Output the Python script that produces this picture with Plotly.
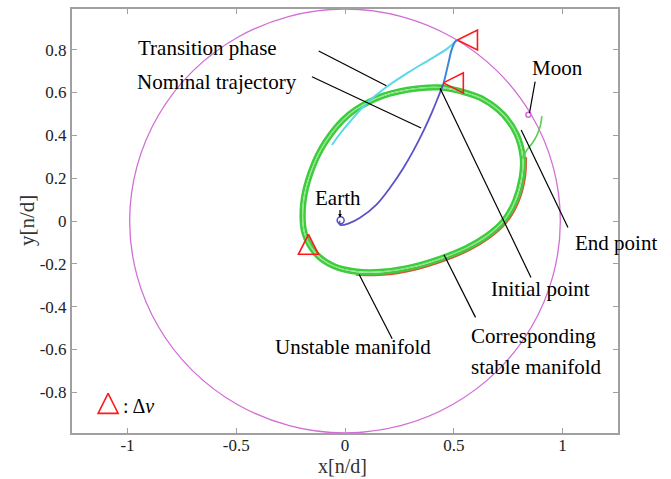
import plotly.graph_objects as go

# ---------------- data ----------------
orbit_x = [0.99, 0.956, 0.857, 0.700, 0.495, 0.256, 0.0, -0.256, -0.495, -0.700, -0.857, -0.956,
           -0.99, -0.956, -0.857, -0.700, -0.495, -0.256, 0.0, 0.256, 0.495, 0.700, 0.857, 0.956, 0.99]
orbit_y = [0.0, 0.256, 0.495, 0.700, 0.857, 0.956, 0.99, 0.956, 0.857, 0.700, 0.495, 0.256,
           0.0, -0.256, -0.495, -0.700, -0.857, -0.956, -0.99, -0.956, -0.857, -0.700, -0.495, -0.256, 0.0]

# stable-manifold loops (centre, outer, inner revolution)
loopA_x = [0.437, 0.55, 0.64, 0.728, 0.789, 0.817, 0.812, 0.782, 0.728, 0.651, 0.56, 0.452, 0.314,
           0.176, 0.054, -0.054, -0.13, -0.184, -0.192, -0.155, -0.088, 0.018, 0.146, 0.284, 0.437]
loopA_y = [0.623, 0.60, 0.565, 0.496, 0.403, 0.295, 0.202, 0.093, 0.0, -0.07, -0.125, -0.17, -0.213,
           -0.236, -0.236, -0.209, -0.155, -0.062, 0.078, 0.233, 0.372, 0.496, 0.573, 0.612, 0.623]
loopB_x = [0.440, 0.555, 0.646, 0.735, 0.797, 0.826, 0.821, 0.791, 0.736, 0.658, 0.565, 0.456, 0.315,
           0.176, 0.051, -0.059, -0.138, -0.193, -0.201, -0.163, -0.094, 0.014, 0.145, 0.285, 0.440]
loopB_y = [0.632, 0.608, 0.572, 0.501, 0.407, 0.297, 0.202, 0.091, -0.004, -0.076, -0.132, -0.178,
           -0.222, -0.245, -0.245, -0.216, -0.160, -0.063, 0.079, 0.237, 0.378, 0.504, 0.582, 0.621, 0.632]
loopC_x = [0.435, 0.546, 0.635, 0.722, 0.782, 0.809, 0.804, 0.774, 0.721, 0.645, 0.555, 0.449, 0.313,
           0.176, 0.056, -0.049, -0.123, -0.176, -0.184, -0.148, -0.082, 0.021, 0.147, 0.283, 0.435]
loopC_y = [0.615, 0.593, 0.559, 0.491, 0.400, 0.293, 0.202, 0.095, 0.003, -0.065, -0.119, -0.163,
           -0.205, -0.228, -0.228, -0.203, -0.151, -0.061, 0.077, 0.230, 0.366, 0.489, 0.565, 0.604, 0.615]

tail_x = [0.815, 0.835, 0.86, 0.882, 0.898, 0.905]
tail_y = [0.29, 0.33, 0.362, 0.40, 0.445, 0.49]

unstable_x = [0.832, 0.827, 0.797, 0.742, 0.663, 0.569, 0.458, 0.316, 0.175, 0.05]
unstable_y = [0.298, 0.202, 0.09, -0.006, -0.079, -0.137, -0.184, -0.228, -0.251, -0.25]

nominal_x = [-0.023, -0.027, -0.02, 0.015, 0.069, 0.146, 0.207, 0.267, 0.317, 0.362, 0.402, 0.432, 0.454]
nominal_y = [0.0, -0.012, -0.019, -0.012, 0.015, 0.078, 0.155, 0.245, 0.333, 0.423, 0.513, 0.588, 0.645]
nominal_top_x = [0.454, 0.475, 0.49, 0.506, 0.515]
nominal_top_y = [0.645, 0.736, 0.799, 0.837, 0.845]

transition_x = [-0.06, -0.025, 0.015, 0.1, 0.192, 0.291, 0.391, 0.47, 0.515]
transition_y = [0.355, 0.405, 0.455, 0.55, 0.627, 0.694, 0.755, 0.805, 0.845]

earth = (-0.02, 0.003)
moon = (0.843, 0.496)

dv_left_x = [0.517, 0.452]
dv_left_y = [0.845, 0.645]
dv_up_x = [-0.168]
dv_up_y = [-0.062]

x_ticks = [-1, -0.5, 0, 0.5, 1]
x_tick_text = ["-1", "-0.5", "0", "0.5", "1"]
y_ticks = [0.8, 0.6, 0.4, 0.2, 0, -0.2, -0.4, -0.6, -0.8]
y_tick_text = ["0.8", "0.6", "0.4", "0.2", "0", "-0.2", "-0.4", "-0.6", "-0.8"]

labels = [
    ("Transition phase", -0.634, 0.806, "center"),
    ("Nominal trajectory", -0.588, 0.651, "center"),
    ("Moon", 0.978, 0.713, "center"),
    ("End point", 1.244, -0.104, "center"),
    ("Initial point", 0.897, -0.318, "center"),
    ("Corresponding", 0.572, -0.535, "left"),
    ("stable manifold", 0.572, -0.682, "left"),
    ("Unstable manifold", 0.036, -0.589, "center"),
    ("Earth", -0.03, 0.108, "center"),
]
leaders = [  # (x0, y0, x1, y1)
    (-0.121, 0.794, 0.19, 0.632),
    (-0.152, 0.674, 0.35, 0.434),
    (0.874, 0.651, 0.848, 0.504),
    (1.025, -0.03, 0.81, 0.425),
    (0.855, -0.264, 0.437, 0.62),
    (0.60, -0.45, 0.455, -0.158),
    (0.217, -0.55, 0.065, -0.25),
]

# ---------------- figure ----------------
fig = go.Figure()

def line(x, y, color, width, shape="spline"):
    fig.add_trace(go.Scatter(x=x, y=y, mode="lines", line=dict(color=color, width=width, shape=shape),
                             hoverinfo="skip", showlegend=False))

line(orbit_x, orbit_y, "#d26ed6", 1.3)
line(unstable_x, unstable_y, "#e0503c", 2.2)
line(loopB_x, loopB_y, "#3ecc3e", 2.6)
line(loopC_x, loopC_y, "#3ecc3e", 2.6)
line(loopA_x, loopA_y, "#86e281", 1.1)
line(tail_x, tail_y, "#5ccf52", 1.6)
line(transition_x, transition_y, "#5ad8ea", 2.0)
line(nominal_x, nominal_y, "#5a52c8", 1.8)
line(nominal_top_x, nominal_top_y, "#3d86de", 2.0)

fig.add_trace(go.Scatter(x=[earth[0]], y=[earth[1]], mode="markers",
                         marker=dict(symbol="circle-open", size=7, color="#5050c8", line=dict(width=1.5)),
                         hoverinfo="skip", showlegend=False))
fig.add_trace(go.Scatter(x=[moon[0]], y=[moon[1]], mode="markers",
                         marker=dict(symbol="circle-open", size=5, color="#d26ed6", line=dict(width=1.5)),
                         hoverinfo="skip", showlegend=False))
fig.add_trace(go.Scatter(x=dv_left_x, y=dv_left_y, mode="markers",
                         marker=dict(symbol="arrow-left-open", size=20, color="#ff1a1a", line=dict(width=1.6)),
                         hoverinfo="skip", showlegend=False))
fig.add_trace(go.Scatter(x=dv_up_x, y=dv_up_y, mode="markers",
                         marker=dict(symbol="arrow-up-open", size=20, color="#ff1a1a", line=dict(width=1.6)),
                         hoverinfo="skip", showlegend=False))
# legend symbol
fig.add_trace(go.Scatter(x=[-1.089], y=[-0.805], mode="markers",
                         marker=dict(symbol="arrow-up-open", size=20, color="#ff1a1a", line=dict(width=1.6)),
                         hoverinfo="skip", showlegend=False))

for (x0, y0, x1, y1) in leaders:
    fig.add_shape(type="line", x0=x0, y0=y0, x1=x1, y1=y1, xref="x", yref="y",
                  line=dict(color="black", width=1.2))

serif = "Liberation Serif, Times New Roman, serif"
for (txt, x, y, anchor) in labels:
    fig.add_annotation(x=x, y=y, xref="x", yref="y", text=txt, showarrow=False,
                       xanchor=anchor, yanchor="middle", font=dict(family=serif, size=21, color="black"))
# Earth small pointer
fig.add_annotation(x=-0.023, y=0.016, ax=-0.023, ay=0.058, xref="x", yref="y", axref="x", ayref="y",
                   text="", showarrow=True, arrowhead=2, arrowsize=0.6, arrowwidth=1.2, arrowcolor="black")
# legend text
fig.add_annotation(x=-1.032, y=-0.862, xref="x", yref="y", text=": Δ<i>v</i>", showarrow=False,
                   xanchor="left", yanchor="middle", font=dict(family=serif, size=20, color="black"))

# axis titles
fig.add_annotation(x=0.496, y=-0.078, xref="paper", yref="paper", text="x[n/d]", showarrow=False,
                   xanchor="center", yanchor="middle", font=dict(family=serif, size=20, color="#333333"))
fig.add_annotation(x=-0.0824, y=0.5, xref="paper", yref="paper", text="y[n/d]", showarrow=False,
                   textangle=-90, xanchor="center", yanchor="middle",
                   font=dict(family=serif, size=21, color="#333333"))

axis_common = dict(showgrid=False, zeroline=False, showline=True, linecolor="#a0a0a0", linewidth=2,
                   mirror="ticks", ticks="inside", ticklen=5, tickcolor="#a0a0a0", tickwidth=1,
                   tickfont=dict(family=serif, size=17, color="#222222"))
fig.update_xaxes(range=[-1.255, 1.255], tickvals=x_ticks, ticktext=x_tick_text,
                 ticklabelstandoff=-4, **axis_common)
fig.update_yaxes(range=[-0.99, 0.99], tickvals=y_ticks, ticktext=y_tick_text, **axis_common)

fig.update_layout(width=671, height=479, margin=dict(l=72, r=53, t=7, b=46),
                  plot_bgcolor="white", paper_bgcolor="white", showlegend=False)

fig.write_html("out.html")
